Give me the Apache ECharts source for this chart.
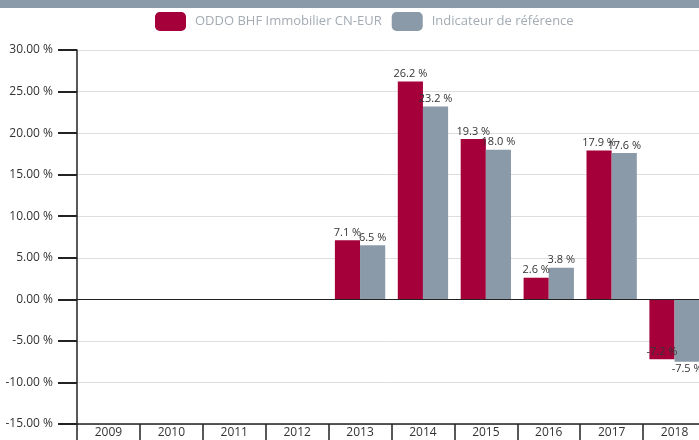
<!DOCTYPE html>
<html>
<head>
<meta charset="utf-8">
<script src="https://cdn.jsdelivr.net/npm/echarts@6/dist/echarts.min.js"></script>
<style>
  html, body { margin: 0; padding: 0; background: #fff; }
  #chart { width: 699px; height: 440px; }
</style>
</head>
<body>
<div id="chart"></div>
<script>
  var years = ['2009', '2010', '2011', '2012', '2013', '2014', '2015', '2016', '2017', '2018']
  var fundValues = [null, null, null, null, 7.1, 26.2, 19.3, 2.6, 17.9, -7.2]
  var benchValues = [null, null, null, null, 6.5, 23.2, 18.0, 3.8, 17.6, -7.5]
  var seriesNames = ['ODDO BHF Immobilier CN-EUR', 'Indicateur de référence']

  var chart = echarts.init(document.getElementById('chart'))
  var fontName = '"Open Sans", "Noto Sans", sans-serif'

  var labelFmt = function (p) {
    return p.value == null ? '' : p.value.toFixed(1) + ' %'
  }
  // negative bars: label goes under the bar end
  function toItems (values, negPos) {
    return values.map(function (v) {
      if (v != null && v < 0) {
        return { value: v, label: { position: negPos } }
      }
      return v
    })
  }

  chart.setOption({
    animation: false,
    textStyle: { fontFamily: fontName },
    graphic: [
      { type: 'rect', left: 0, top: 0, shape: { width: 699, height: 8 }, style: { fill: '#8a9aa8' } }
    ],
    legend: {
      top: 12,
      left: 155,
      padding: 0,
      itemWidth: 31,
      itemHeight: 19,
      itemGap: 10,
      icon: 'roundRect',
      textStyle: { color: '#a3abb3', fontSize: 13, fontFamily: fontName, padding: [0, 0, 0, 4] },
      data: seriesNames
    },
    grid: { left: 77, right: -7, top: 50, bottom: 16, outerBoundsMode: 'none' },
    xAxis: {
      type: 'category',
      data: years,
      axisLine: { onZero: false, lineStyle: { color: '#222', width: 1.5 } },
      axisTick: { show: true, length: 16, lineStyle: { color: '#222', width: 1.5 } },
      axisLabel: { color: '#333', fontSize: 12, margin: 3 }
    },
    yAxis: {
      type: 'value',
      min: -15,
      max: 30,
      interval: 5,
      axisLine: { show: true, lineStyle: { color: '#222', width: 1.5 } },
      axisTick: { show: true, length: 19, lineStyle: { color: '#222', width: 2 } },
      axisLabel: {
        color: '#333',
        fontSize: 12,
        margin: 24,
        formatter: function (v) { return v.toFixed(2) + ' %' }
      },
      splitLine: { lineStyle: { color: '#dedede' } }
    },
    series: [
      {
        name: seriesNames[0],
        type: 'bar',
        data: toItems(fundValues, 'insideBottom'),
        barGap: 0,
        barCategoryGap: '20%',
        itemStyle: { color: '#a5003a' },
        label: { show: true, position: 'top', distance: 2, color: '#333', fontSize: 11, formatter: labelFmt },
        markLine: {
          silent: true,
          symbol: 'none',
          label: { show: false },
          lineStyle: { color: '#222', type: 'solid', width: 1.2 },
          data: [{ yAxis: 0 }]
        }
      },
      {
        name: seriesNames[1],
        type: 'bar',
        data: toItems(benchValues, 'bottom'),
        itemStyle: { color: '#8a9aa8' },
        label: { show: true, position: 'top', distance: 2, color: '#333', fontSize: 11, formatter: labelFmt }
      }
    ]
  })
</script>
</body>
</html>
